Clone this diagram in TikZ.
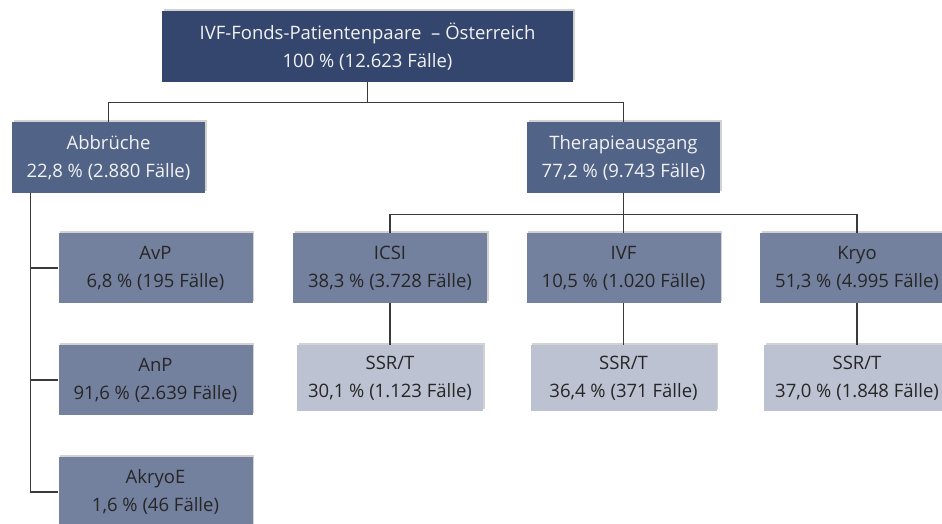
\documentclass[tikz,border=0pt]{standalone}
\usepackage{fontspec}
\setmainfont{Open Sans}
\usetikzlibrary{shadows}
\definecolor{cTop}{HTML}{34466D}
\definecolor{cOne}{HTML}{516386}
\definecolor{cTwo}{HTML}{74819E}
\definecolor{cThree}{HTML}{BCC2D1}
\definecolor{cLine}{HTML}{3A3A3A}
\definecolor{cLight}{HTML}{F2F2F2}
\definecolor{cDark}{HTML}{262626}
\tikzset{
  box/.style={rectangle, inner sep=0pt, align=center,
    font=\fontsize{18.5}{28}\selectfont,
    drop shadow={opacity=0.35, shadow xshift=1.5pt, shadow yshift=2pt}},
  topbox/.style={box, fill=cTop, text=cLight, minimum width=411pt, minimum height=71pt},
  onebox/.style={box, fill=cOne, text=cLight, minimum width=193pt, minimum height=71pt},
  twobox/.style={box, fill=cTwo, text=cDark, minimum width=194pt, minimum height=70pt},
  threebox/.style={box, fill=cThree, text=cDark, minimum width=186pt, minimum height=66pt},
  conn/.style={draw=cLine, line width=1.3pt}
}
\begin{document}
\begin{tikzpicture}[x=1pt,y=-1pt]
\useasboundingbox (0,0) rectangle (942,524);
\clip (0,0) rectangle (942,524);
\fill[white] (0,0) rectangle (942,524);

\node[topbox] (top) at (367.5,46.5) {IVF-Fonds-Patientenpaare \ – Österreich\\100 \% (12.623 Fälle)};
\node[onebox] (abb) at (108.5,157.5) {Abbrüche\\22,8 \% (2.880 Fälle)};
\node[onebox] (ther) at (623.5,157.5) {Therapieausgang\\77,2 \% (9.743 Fälle)};

\node[twobox] (avp) at (155.5,268) {AvP\\6,8 \% (195 Fälle)};
\node[twobox] (anp) at (155.5,380) {AnP\\91,6 \% (2.639 Fälle)};
\node[twobox] (akr) at (155.5,492) {AkryoE\\1,6 \% (46 Fälle)};

\node[twobox] (icsi) at (390,268) {ICSI\\38,3 \% (3.728 Fälle)};
\node[twobox] (ivf) at (623.5,268) {IVF\\10,5 \% (1.020 Fälle)};
\node[twobox] (kryo) at (857,268) {Kryo\\51,3 \% (4.995 Fälle)};

\node[threebox] (s1) at (390,378) {SSR/T\\30,1 \% (1.123 Fälle)};
\node[threebox] (s2) at (623.5,378) {SSR/T\\36,4 \% (371 Fälle)};
\node[threebox] (s3) at (857,378) {SSR/T\\37,0 \% (1.848 Fälle)};

\begin{scope}[on background layer/.try]
\end{scope}

\draw[conn] (top.south) -- ++(0,20) -| (abb.north);
\draw[conn] (top.south) -- ++(0,20) -| (ther.north);
\draw[conn] (ther.south) -- ++(0,21) -| (icsi.north);
\draw[conn] (ther.south) -- ++(0,21) -| (kryo.north);
\draw[conn] (ther.south) -- (ivf.north);
\draw[conn] ([xshift=19pt]abb.south west) |- (avp.west);
\draw[conn] ([xshift=19pt]abb.south west) |- (anp.west);
\draw[conn] ([xshift=19pt]abb.south west) |- (akr.west);
\draw[conn] (icsi.south) -- (s1.north);
\draw[conn] (ivf.south) -- (s2.north);
\draw[conn] (kryo.south) -- (s3.north);
\end{tikzpicture}
\end{document}
